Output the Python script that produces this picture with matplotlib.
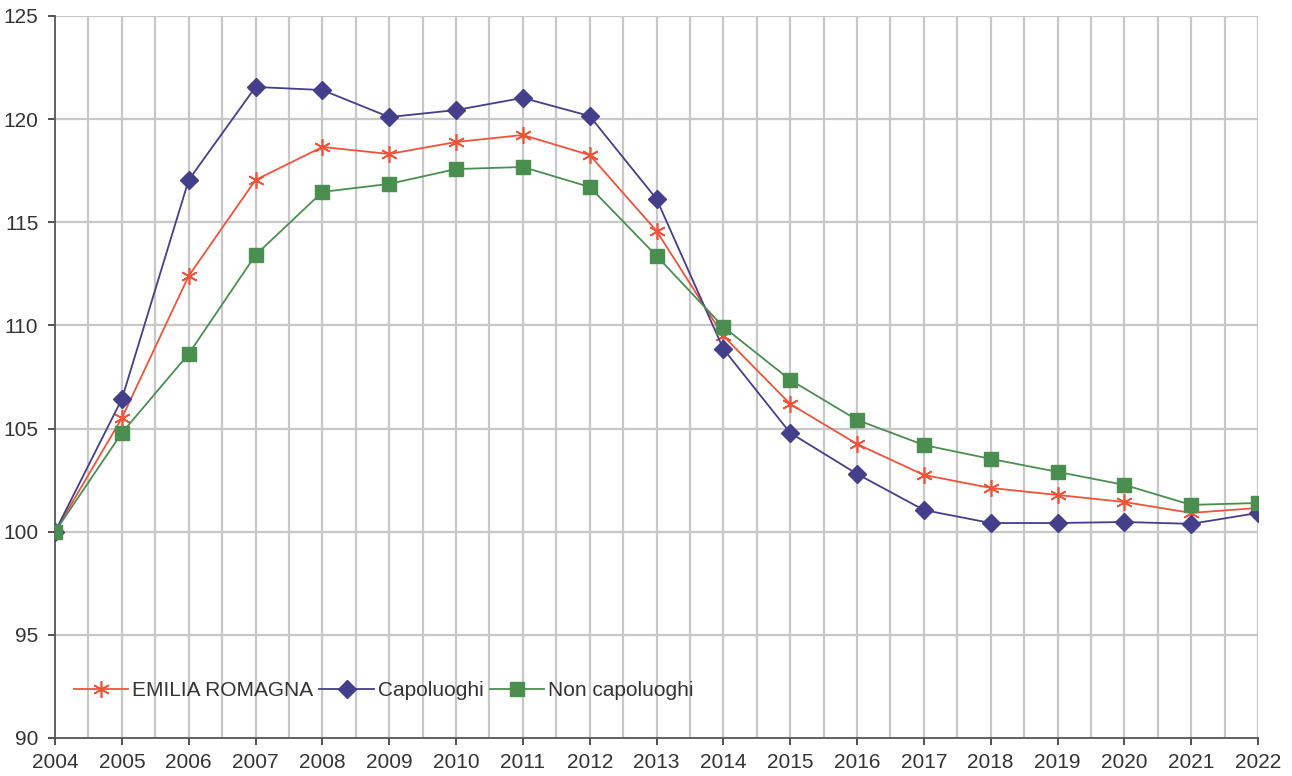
import matplotlib
matplotlib.use("Agg")
import matplotlib.pyplot as plt
import numpy as np

plt.rcParams['font.family'] = ['Liberation Sans Narrow', 'Liberation Sans', 'DejaVu Sans']

years = list(range(2004, 2023))

emilia_romagna = [100, 105.51, 112.40, 117.05, 118.65, 118.31, 118.89, 119.23, 118.26, 114.58,
                  109.49, 106.19, 104.25, 102.75, 102.12, 101.78, 101.44, 100.91, 101.15]
capoluoghi = [100, 106.43, 117.05, 121.56, 121.41, 120.10, 120.44, 121.03, 120.15, 116.13,
              108.86, 104.79, 102.80, 101.05, 100.42, 100.42, 100.47, 100.38, 100.91]
non_capoluoghi = [100, 104.79, 108.62, 113.41, 116.47, 116.86, 117.58, 117.68, 116.71, 113.37,
                  109.93, 107.36, 105.42, 104.20, 103.53, 102.90, 102.27, 101.30, 101.39]

y_ticks = [90, 95, 100, 105, 110, 115, 120, 125]

fig = plt.figure(figsize=(12.92, 7.76), dpi=100)
ax = fig.add_axes([0.0426, 0.049, 0.9311, 0.9304])

# grid: vertical every half year, horizontal every 5
for x in np.arange(2004.5, 2022.01, 0.5):
    ax.axvline(x, color='#c8c8c8', lw=1.6, zorder=0)
for y in y_ticks[1:]:
    ax.axhline(y, color='#c8c8c8', lw=1.6, zorder=0)

ax.plot(years, emilia_romagna, color='#f0533a', lw=1.3, marker=(6, 2, 0),
        markersize=12, markeredgewidth=1.2, label='EMILIA ROMAGNA', zorder=3)
ax.plot(years, capoluoghi, color='#433f8a', lw=1.3, marker='D',
        markersize=9.5, label='Capoluoghi', zorder=3)
ax.plot(years, non_capoluoghi, color='#4a8f4f', lw=1.3, marker='s',
        markersize=10.5, label='Non capoluoghi', zorder=3)

ax.set_xlim(2004, 2022)
ax.set_ylim(90, 125)
ax.set_xticks(years)
ax.set_yticks(y_ticks)
ax.tick_params(labelsize=15, colors='#333333', length=5, width=1.2, direction='out')
ax.tick_params(axis='x', pad=6)
ax.tick_params(axis='y', pad=7)
for s in ['top', 'right']:
    ax.spines[s].set_visible(False)
for s in ['left', 'bottom']:
    ax.spines[s].set_color('#555555')
    ax.spines[s].set_linewidth(1.3)

leg = ax.legend(loc='lower left', bbox_to_anchor=(0.0, 0.026), ncol=3, frameon=False,
                fontsize=15, handlelength=2.6, handletextpad=0.2, columnspacing=0.3,
                labelcolor='#333333')

fig.savefig('out.png', dpi=100)
